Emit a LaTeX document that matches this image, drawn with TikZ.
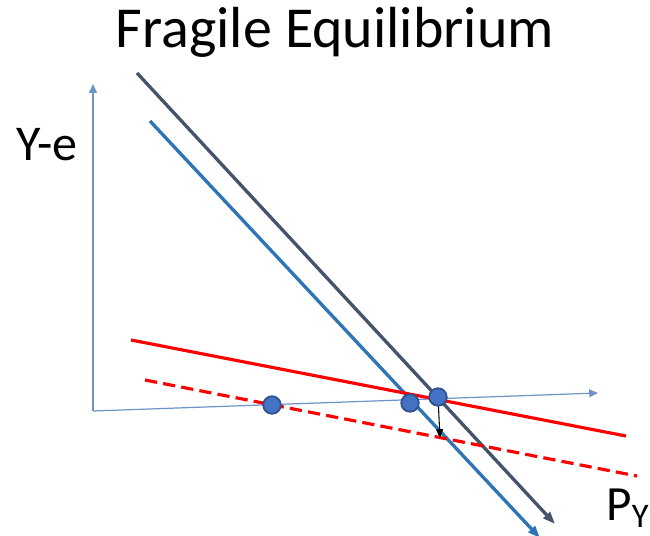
\documentclass[tikz,border=0pt]{standalone}
\usepackage{fontspec}
\setmainfont{Carlito}
\usetikzlibrary{arrows.meta}
\definecolor{slate}{HTML}{44546A}
\definecolor{lineblue}{HTML}{2E75B6}
\definecolor{axisblue}{HTML}{6F95C8}
\definecolor{dotfill}{HTML}{4472C4}
\definecolor{dotedge}{HTML}{2F528F}
\tikzset{
  axisline/.style={axisblue, line width=0.7pt, -{Triangle[length=5pt,width=4.5pt]}},
  curve/.style={line width=1.9pt, -{Triangle[length=7pt,width=5pt]}},
  eqdot/.style={circle, fill=dotfill, draw=dotedge, line width=1pt, minimum size=10pt, inner sep=0pt}
}
\begin{document}
\begin{tikzpicture}[x=0.02cm, y=-0.02cm]
                \useasboundingbox (0,0) rectangle (650,535);
                \node (title) at (335,32) {\fontsize{33}{39}\selectfont Fragile Equilibrium};
                \node (ylab) at (47,145) {\fontsize{28.5}{34}\selectfont Y-e};
                \node (xlab) at (628,508) {\fontsize{28}{34}\selectfont P\textsubscript{Y}};
                % axes
                \coordinate (O) at (93,411);
                \coordinate (Ytop) at (93,84);
                \coordinate (Xend) at (598,393);
                \draw[axisline] (O) -- (Ytop);
                \draw[axisline] (O) -- (Xend);
                % downward sloping lines
                \coordinate (D1) at (137,73);
                \coordinate (D2) at (555,524);
                \coordinate (B1) at (150,121);
                \coordinate (B2) at (540,538);
                \draw[curve, slate] (D1) -- (D2);
                \draw[curve, lineblue] (B1) -- (B2);
                % flat lines
                \coordinate (R1) at (131,340);
                \coordinate (R2) at (626,436);
                \coordinate (S1) at (145,380);
                \coordinate (S2) at (637,476);
                \draw[red, line width=1.8pt] (R1) -- (R2);
                \draw[red, line width=1.8pt, dash pattern=on 7pt off 3.5pt] (S1) -- (S2);
                % equilibria
                \node[eqdot] (E1) at (272,405) {};
                \node[eqdot] (E2) at (410,403) {};
                \node[eqdot] (E3) at (438,397) {};
                \coordinate (Edrop) at (440,438);
                \draw[black, line width=0.6pt, -{Triangle[length=5pt,width=4pt]}] (E3) -- (Edrop);
            \end{tikzpicture}
\end{document}
